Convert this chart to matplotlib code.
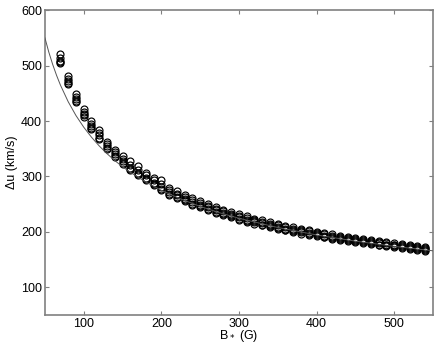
import matplotlib
matplotlib.use("Agg")
import matplotlib.pyplot as plt

# ==========================================
# Data
# ==========================================

# field strength of each cluster of measurements (G)
b_points = [70, 80, 90, 100, 110, 120, 130, 140, 150, 160, 170, 180, 190, 200,
            210, 220, 230, 240, 250, 260, 270, 280, 290, 300, 310, 320, 330,
            340, 350, 360, 370, 380, 390, 400, 410, 420, 430, 440, 450, 460,
            470, 480, 490, 500, 510, 520, 530, 540]

# velocity values in each cluster (km/s)
du_points = [
    [521, 513, 508, 506, 505],
    [481, 476, 472, 468, 466],
    [448, 443, 439, 436, 434],
    [422, 417, 413, 410, 408],
    [400, 395, 391, 387, 385],
    [384, 378, 374, 370, 367],
    [363, 359, 355, 352, 350],
    [348, 344, 340, 337, 335],
    [337, 331, 327, 324, 322],
    [328, 321, 316, 313, 311],
    [318, 312, 307, 304, 302],
    [307, 302, 298, 295, 293],
    [298, 293, 289, 286, 284],
    [293, 286, 281, 278, 276],
    [280, 276, 272, 269, 267],
    [273, 269, 266, 263, 261],
    [267, 263, 260, 257, 255],
    [261, 257, 254, 251, 249],
    [255, 252, 249, 246, 244],
    [250, 247, 244, 241, 239],
    [245, 242, 239, 236, 234],
    [240, 237, 234, 232, 230],
    [236, 233, 230, 228, 226],
    [232, 229, 226, 224, 222],
    [228, 225, 222, 220, 218],
    [224, 221, 219, 217, 215],
    [221, 218, 216, 213, 212],
    [217, 215, 212, 210, 209],
    [214, 212, 209, 207, 206],
    [211, 209, 206, 204, 203],
    [208, 206, 203, 201, 200],
    [206, 203, 201, 199, 197],
    [203, 201, 198, 196, 195],
    [200, 198, 196, 194, 192],
    [198, 196, 193, 191, 190],
    [196, 193, 191, 189, 188],
    [193, 191, 189, 187, 186],
    [191, 189, 187, 185, 184],
    [189, 187, 185, 183, 182],
    [187, 185, 183, 181, 180],
    [185, 183, 181, 179, 178],
    [183, 181, 179, 177, 176],
    [181, 179, 177, 176, 174],
    [179, 177, 176, 174, 172],
    [178, 176, 174, 172, 171],
    [176, 174, 172, 171, 169],
    [174, 172, 171, 169, 168],
    [173, 171, 169, 168, 166],
]

# model curve
b_curve = [50, 55, 60, 65, 70, 80, 90, 100, 110, 120, 130, 140, 150, 160,
           180, 200, 225, 250, 275, 300, 350, 400, 450, 500, 550]
du_curve = [550.0, 524.4, 502.1, 482.4, 464.8, 434.8, 409.9, 388.9, 370.8,
            355.0, 341.1, 328.7, 317.5, 307.5, 289.9, 275.0, 259.3, 246.0,
            234.5, 224.5, 207.9, 194.4, 183.3, 173.9, 165.8]

x_ticks = [100, 200, 300, 400, 500]
y_ticks = [100, 200, 300, 400, 500, 600]

# ==========================================
# Plot
# ==========================================

plt.rcParams["font.family"] = ["Liberation Sans", "DejaVu Sans"]

fig = plt.figure(figsize=(4.36, 3.5), dpi=100)
ax = fig.add_axes([0.103, 0.1, 0.890, 0.871])

for b, vals in zip(b_points, du_points):
    ax.plot([b] * len(vals), vals, "o", markersize=5, markerfacecolor="none",
            markeredgecolor="black", markeredgewidth=0.85, zorder=2)

ax.plot(b_curve, du_curve, color="#555555", linewidth=0.7, zorder=3)

ax.set_xlim(50, 550)
ax.set_ylim(50, 600)
ax.set_xticks(x_ticks)
ax.set_yticks(y_ticks)

ax.tick_params(direction="in", length=3, width=0.8, color="#808080",
               labelsize=9, top=True, right=True, pad=2)
for side in ax.spines.values():
    side.set_color("#808080")
    side.set_linewidth(1.2)

ax.set_xlabel("B$_*$ (G)", fontsize=9, labelpad=-1)
ax.set_ylabel("Δu (km/s)", fontsize=9, labelpad=2)

fig.savefig("out.png", dpi=100)
